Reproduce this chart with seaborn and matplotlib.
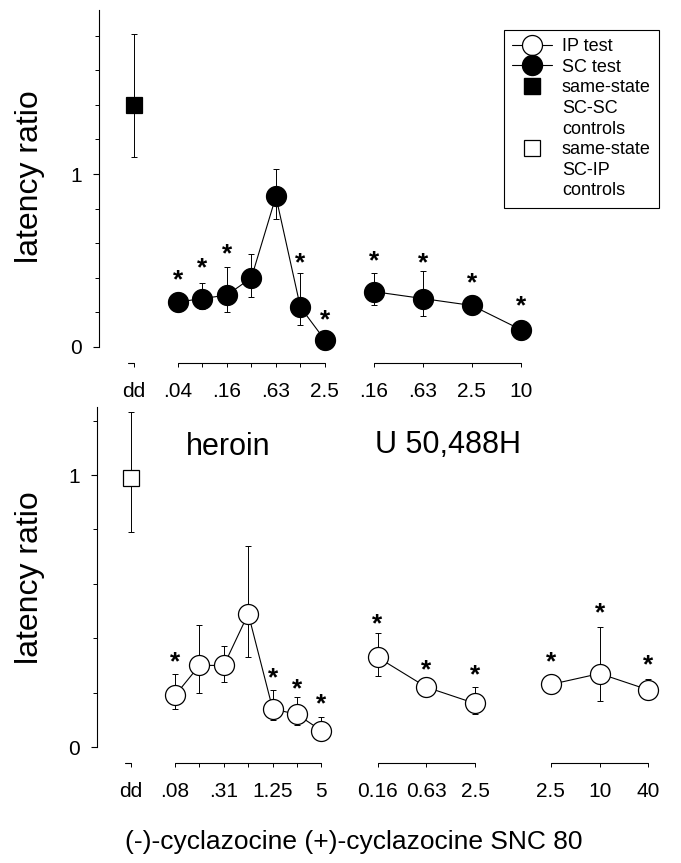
import numpy as np
import pandas as pd
import matplotlib
matplotlib.use('Agg')
import matplotlib.pyplot as plt
from matplotlib.lines import Line2D
from matplotlib.ticker import MultipleLocator
import seaborn as sns

# top panel: SC test (filled circles)
heroin_dose = [0.04, 0.08, 0.16, 0.31, 0.63, 1.25, 2.5]
heroin_labels = ['.04', '', '.16', '', '.63', '', '2.5']
heroin_mean = [0.26, 0.28, 0.30, 0.40, 0.87, 0.23, 0.04]
heroin_lo = [0.24, 0.22, 0.20, 0.29, 0.74, 0.13, 0.03]
heroin_hi = [0.28, 0.37, 0.46, 0.54, 1.03, 0.43, 0.05]
heroin_star = [0.43, 0.50, 0.58, np.nan, np.nan, 0.53, 0.20]

u50_dose = [0.16, 0.63, 2.5, 10]
u50_labels = ['.16', '.63', '2.5', '10']
u50_mean = [0.32, 0.28, 0.24, 0.10]
u50_lo = [0.24, 0.18, 0.22, 0.09]
u50_hi = [0.43, 0.44, 0.26, 0.11]
u50_star = [0.54, 0.53, 0.41, 0.28]

scsc_mean, scsc_lo, scsc_hi = 1.40, 1.10, 1.81

# bottom panel: IP test (open circles)
mcyc_dose = [0.08, 0.16, 0.31, 0.63, 1.25, 2.5, 5]
mcyc_labels = ['.08', '', '.31', '', '1.25', '', '5']
mcyc_mean = [0.19, 0.30, 0.30, 0.49, 0.14, 0.12, 0.06]
mcyc_lo = [0.14, 0.20, 0.24, 0.33, 0.10, 0.08, 0.04]
mcyc_hi = [0.27, 0.45, 0.37, 0.74, 0.21, 0.185, 0.11]
mcyc_star = [0.34, np.nan, np.nan, np.nan, 0.28, 0.24, 0.185]

pcyc_dose = [0.16, 0.63, 2.5]
pcyc_labels = ['0.16', '0.63', '2.5']
pcyc_mean = [0.33, 0.22, 0.16]
pcyc_lo = [0.26, 0.21, 0.12]
pcyc_hi = [0.42, 0.23, 0.22]
pcyc_star = [0.48, 0.31, 0.29]

snc_dose = [2.5, 10, 40]
snc_labels = ['2.5', '10', '40']
snc_mean = [0.23, 0.27, 0.21]
snc_lo = [0.22, 0.17, 0.20]
snc_hi = [0.24, 0.44, 0.25]
snc_star = [0.34, 0.52, 0.33]

scip_mean, scip_lo, scip_hi = 0.99, 0.79, 1.23

sns.set_theme(style='ticks')
plt.rcParams['font.family'] = ['Liberation Sans', 'DejaVu Sans']
plt.rcParams['text.color'] = 'black'
plt.rcParams['axes.labelcolor'] = 'black'
plt.rcParams['xtick.color'] = 'black'
plt.rcParams['ytick.color'] = 'black'

DD_POS = -1.8


def positions(dose, offset):
    # one x unit per doubling of dose
    return offset + np.round(np.log2(np.array(dose) / dose[0]))


def draw_group(ax, dose, mean, lo, hi, star, offset, face):
    x = positions(dose, offset)
    mean = np.array(mean)
    yerr = [mean - np.array(lo), np.array(hi) - mean]
    ax.errorbar(x, mean, yerr=yerr, fmt='none', ecolor='black', elinewidth=0.7,
                capsize=2.5, capthick=0.7, zorder=1)
    df = pd.DataFrame({'x': x, 'y': mean})
    sns.lineplot(data=df, x='x', y='y', ax=ax, color='black', linewidth=0.8,
                 marker='o', markersize=14.4, markerfacecolor=face,
                 markeredgecolor='black', markeredgewidth=0.9, zorder=3)
    for xi, si in zip(x, star):
        if not np.isnan(si):
            ax.annotate('*', (xi, si), xytext=(0, -10.5), textcoords='offset points',
                        ha='center', va='baseline', fontsize=19, fontweight='bold',
                        color='black')
    # group axis line under the doses
    ax.plot([x[0], x[-1]], [0, 0], color='black', lw=0.8,
            transform=ax.get_xaxis_transform(), clip_on=False)
    return x


def draw_control(ax, mean, lo, hi, face, size):
    ax.errorbar([DD_POS], [mean], yerr=[[mean - lo], [hi - mean]], fmt='none',
                ecolor='black', elinewidth=0.7, capsize=2.5, capthick=0.7, zorder=1)
    ax.plot([DD_POS], [mean], marker='s', markersize=size, markerfacecolor=face,
            markeredgecolor='black', markeredgewidth=0.9, linestyle='none', zorder=3)
    ax.plot([DD_POS - 0.25, DD_POS], [0, 0], color='black', lw=0.8,
            transform=ax.get_xaxis_transform(), clip_on=False)


def style_axis(ax, ymin, ymax, xmin, xmax, ticks, labels):
    ax.set_ylim(ymin, ymax)
    ax.set_xlim(xmin, xmax)
    for s in ['top', 'right', 'bottom']:
        ax.spines[s].set_visible(False)
    ax.spines['left'].set_bounds(0, ymax)
    ax.spines['left'].set_linewidth(0.8)
    ax.spines['left'].set_color('black')
    ax.set_yticks([0, 1])
    ax.set_yticklabels(['0', '1'])
    ax.yaxis.set_minor_locator(MultipleLocator(0.2))
    ax.tick_params(axis='y', which='major', length=4, width=0.8, labelsize=15,
                   pad=8, color='black')
    ax.tick_params(axis='y', which='minor', length=3, width=0.7, color='black')
    ax.set_xticks(ticks)
    ax.set_xticklabels(labels)
    ax.tick_params(axis='x', length=3, width=0.7, labelsize=15, pad=11, color='black')
    ax.set_xlabel('')
    ax.set_ylabel('')
    ax.patch.set_alpha(0)


W, H = 681, 863
fig = plt.figure(figsize=(W / 100, H / 100), dpi=100)

# top panel
ax1 = fig.add_axes([99 / W, 1 - 363 / H, (665 - 99) / W, (363 - 10) / H])
draw_control(ax1, scsc_mean, scsc_lo, scsc_hi, 'black', 12)
xh = draw_group(ax1, heroin_dose, heroin_mean, heroin_lo, heroin_hi, heroin_star, 0, 'black')
xu = draw_group(ax1, u50_dose, u50_mean, u50_lo, u50_hi, u50_star, 8, 'black')
style_axis(ax1, -0.0925, 1.948, -3.22, 19.88,
           [DD_POS] + list(xh) + list(xu), ['dd'] + heroin_labels + u50_labels)

handles = [
    Line2D([], [], color='black', lw=0.8, marker='o', markersize=14.4,
           markerfacecolor='white', markeredgecolor='black', markeredgewidth=0.9),
    Line2D([], [], color='black', lw=0.8, marker='o', markersize=14.4,
           markerfacecolor='black', markeredgecolor='black'),
    Line2D([], [], linestyle='none', marker='s', markersize=12,
           markerfacecolor='black', markeredgecolor='black'),
    Line2D([], [], linestyle='none'),
    Line2D([], [], linestyle='none'),
    Line2D([], [], linestyle='none', marker='s', markersize=11.5,
           markerfacecolor='white', markeredgecolor='black', markeredgewidth=0.9),
    Line2D([], [], linestyle='none'),
    Line2D([], [], linestyle='none'),
]
leg_labels = ['IP test', 'SC test', 'same-state', 'SC-SC', 'controls',
              'same-state', 'SC-IP', 'controls']
leg = ax1.legend(handles, leg_labels, loc='upper left',
                 bbox_to_anchor=(504 / W, 1 - 30 / H), bbox_transform=fig.transFigure,
                 borderaxespad=0, fontsize=13, frameon=True, fancybox=False,
                 framealpha=1, edgecolor='black', handlelength=2.2,
                 handletextpad=0.55, labelspacing=0.2, borderpad=0.45)
leg.get_frame().set_linewidth(0.8)

# bottom panel
ax2 = fig.add_axes([97 / W, 1 - 763 / H, (665 - 97) / W, (763 - 407) / H])
draw_control(ax2, scip_mean, scip_lo, scip_hi, 'white', 11.5)
xm = draw_group(ax2, mcyc_dose, mcyc_mean, mcyc_lo, mcyc_hi, mcyc_star, 0, 'white')
xp = draw_group(ax2, pcyc_dose, pcyc_mean, pcyc_lo, pcyc_hi, pcyc_star, 8.3, 'white')
xs = draw_group(ax2, snc_dose, snc_mean, snc_lo, snc_hi, snc_star, 15.4, 'white')
style_axis(ax2, -0.0588, 1.25, -3.2, 20.08,
           [DD_POS] + list(xm) + list(xp) + list(xs),
           ['dd'] + mcyc_labels + pcyc_labels + snc_labels)

# labels
fig.text(30 / W, 1 - 177 / H, 'latency ratio', rotation=90, ha='center', va='center', fontsize=23)
fig.text(30 / W, 1 - 578 / H, 'latency ratio', rotation=90, ha='center', va='center', fontsize=23)
fig.text(228 / W, 1 - 447 / H, 'heroin', ha='center', va='center', fontsize=22)
fig.text(448 / W, 1 - 445 / H, 'U 50,488H', ha='center', va='center', fontsize=22)
fig.text(354 / W, 1 - 842 / H, '(-)-cyclazocine (+)-cyclazocine SNC 80',
         ha='center', va='center', fontsize=19)

fig.savefig('out.png', dpi=100, facecolor='white')
